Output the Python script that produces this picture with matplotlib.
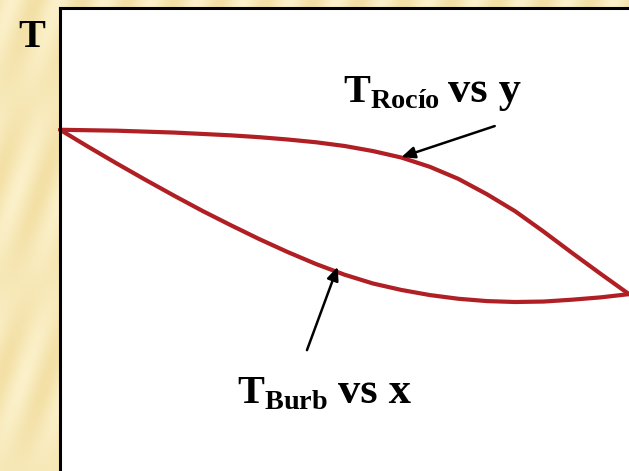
import numpy as np
import matplotlib
matplotlib.use("Agg")
import matplotlib.pyplot as plt
from matplotlib.colors import LinearSegmentedColormap

# Composition (0..1) and normalised temperature
x_comp = [0.00, 0.05, 0.10, 0.15, 0.20, 0.25, 0.30, 0.35, 0.40, 0.45, 0.50,
          0.55, 0.60, 0.65, 0.70, 0.75, 0.80, 0.85, 0.90, 0.95, 1.00]
t_dew = [0.737, 0.736, 0.735, 0.733, 0.731, 0.728, 0.725, 0.721, 0.716, 0.710, 0.702,
         0.691, 0.677, 0.657, 0.631, 0.598, 0.561, 0.517, 0.471, 0.426, 0.382]
t_bub = [0.737, 0.700, 0.664, 0.629, 0.595, 0.562, 0.531, 0.501, 0.473, 0.447, 0.424,
         0.405, 0.391, 0.380, 0.372, 0.367, 0.365, 0.366, 0.370, 0.375, 0.382]

# label arrows (composition, temperature)
dew_tip, dew_tail = (0.600, 0.678), (0.764, 0.745)
bub_tip, bub_tail = (0.488, 0.441), (0.434, 0.261)

RED = "#b01f24"
SERIF = ["Liberation Serif", "DejaVu Serif"]

plt.rcParams["mathtext.fontset"] = "custom"
plt.rcParams["mathtext.rm"] = "Liberation Serif:bold"
plt.rcParams["mathtext.bf"] = "Liberation Serif:bold"

W, H = 629, 471
fig = plt.figure(figsize=(W / 100, H / 100), dpi=100)

# pale-yellow paper texture behind everything (decoration only)
bg = fig.add_axes([0, 0, 1, 1], zorder=0)
yy, xx = np.mgrid[0:H, 0:W]
tex = 0.5 + 0.5 * np.sin((xx * 0.95 + yy * 0.32) / 7.0) * np.cos(yy / 60.0)
bg.imshow(tex, cmap=LinearSegmentedColormap.from_list("paper", ["#f3e0a6", "#fbf0c9"]),
          aspect="auto", extent=[0, W, H, 0])
bg.axis("off")

left = 60 / W
top = 1 - 8 / H
ax = fig.add_axes([left, 0, 1 - left, top], zorder=1)
ax.set_facecolor("white")
ax.set_xlim(0, 1)
ax.set_ylim(0, 1)
for s in ("right", "bottom"):
    ax.spines[s].set_visible(False)
for s in ("left", "top"):
    ax.spines[s].set_linewidth(2.2)
    ax.spines[s].set_color("black")
ax.set_xticks([])
ax.set_yticks([])

ax.plot(x_comp, t_dew, color=RED, lw=3.0, solid_capstyle="round",
        solid_joinstyle="round", clip_on=False)
ax.plot(x_comp, t_bub, color=RED, lw=3.0, solid_capstyle="round",
        solid_joinstyle="round", clip_on=False)

arrow = dict(arrowstyle="-|>,head_length=0.8,head_width=0.35", color="black", lw=1.8,
             shrinkA=0, shrinkB=0)
ax.annotate("", xy=dew_tip, xytext=dew_tail, arrowprops=arrow)
ax.annotate("", xy=bub_tip, xytext=bub_tail, arrowprops=arrow)

ax.text(0.497, 0.797, r"$\mathbf{T}_{\mathbf{Rocío}}$", fontsize=29,
        family=SERIF, fontweight="bold", ha="left", va="baseline")
ax.text(0.682, 0.797, "vs y", fontsize=32,
        family=SERIF, fontweight="bold", ha="left", va="baseline")
ax.text(0.311, 0.147, r"$\mathbf{T}_{\mathbf{Burb}}$", fontsize=29,
        family=SERIF, fontweight="bold", ha="left", va="baseline")
ax.text(0.489, 0.147, "vs x", fontsize=32,
        family=SERIF, fontweight="bold", ha="left", va="baseline")

fig.text(18 / W, 1 - 47 / H, "T", fontsize=29, family=SERIF, fontweight="bold",
         ha="left", va="baseline")

fig.savefig("out.png", dpi=100)
